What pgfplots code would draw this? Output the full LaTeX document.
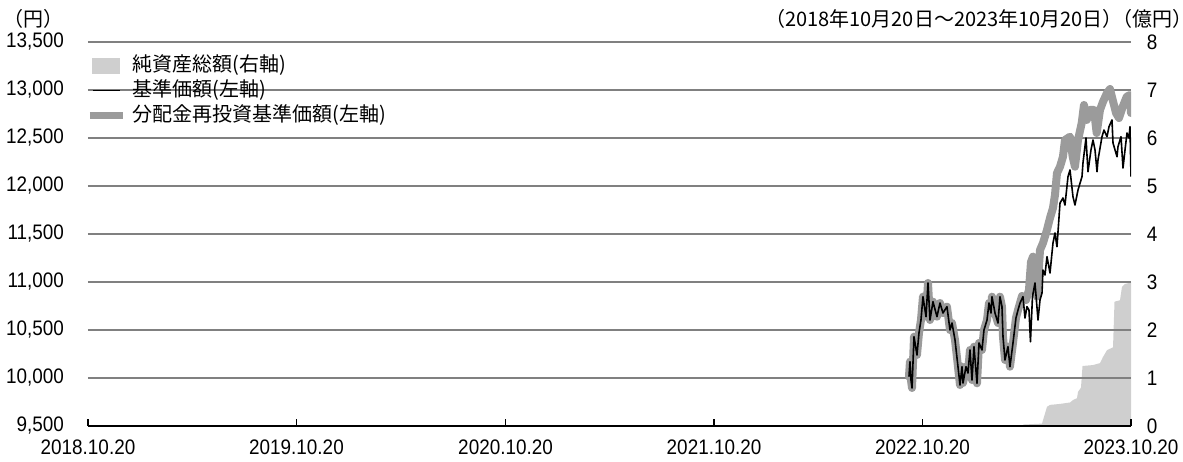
\documentclass[border=0pt]{standalone}
\usepackage{pgfplots}
\pgfplotsset{compat=1.18}
\usepackage{fontspec}
\setmainfont{Liberation Sans}[FakeStretch=0.9]
\newfontfamily\cjk{Noto Sans CJK JP}
\definecolor{navgray}{RGB}{207,207,207}
\definecolor{reinvgray}{RGB}{155,155,155}
\definecolor{gridgray}{RGB}{128,128,128}

\begin{document}
\begin{tikzpicture}
\useasboundingbox (-44pt,-17.5pt) rectangle (547.5pt,213pt);
\pgfplotsset{
  base/.style={
    scale only axis, width=521.5pt, height=192pt,
    at={(0pt,0pt)}, anchor=south west,
    xmin=0, xmax=1826,
    tick label style={font=\fontsize{10.5}{12}\selectfont},
    /pgf/number format/assume math mode=true,
    scaled y ticks=false,
  }
}
% right axis: net assets (100 million yen)
\begin{axis}[base, ymin=0, ymax=8, ytick={0,...,8},
  axis x line=none, axis y line*=right, yticklabel pos=right,
  y axis line style={draw=none}, ytick style={draw=none},
  yticklabel shift=4.35pt]
\addplot[fill=navgray, draw=none] coordinates {
(1636.9,0) (1637,0.03) (1670.2,0.05) (1671.9,0.12) (1678.9,0.40) (1684.2,0.44)
(1701.7,0.46) (1719.2,0.49) (1724.4,0.54) (1731.4,0.58) (1733.2,0.71) (1738.4,0.80)
(1741.1,1.25) (1759.5,1.27) (1771.7,1.31) (1777.0,1.44) (1784.0,1.58) (1794.5,1.64)
(1797.1,2.59) (1806.7,2.62) (1810.2,2.90) (1815.5,2.96) (1826,2.99)
} \closedcycle;
\end{axis}
% left axis: NAV per unit (yen)
\begin{axis}[base, ymin=9500, ymax=13500, ytick={9500,10000,...,13500},
  axis x line*=bottom, axis y line*=left,
  y axis line style={draw=none}, ytick style={draw=none},
  x axis line style={-, line width=0.75pt, black},
  xtick={0,365,731,1096,1461,1826},
  xticklabels={2018.10.20,2019.10.20,2020.10.20,2021.10.20,2022.10.20,2023.10.20},
  xtick align=inside, major tick length=3.5pt, xtick style={black, line width=0.6pt},
  ymajorgrids, grid style={gridgray, line width=0.8pt},
  /pgf/number format/1000 sep={,},
  yticklabel style={xshift=-8.5pt}, xticklabel style={yshift=-3.2pt},
  legend style={draw=none, fill=none, at={(rel axis cs:0,1)}, anchor=north west,
    xshift=-1pt, yshift=-5.75pt, inner sep=0pt, row sep=1pt,
    font=\cjk\fontsize{10}{12}\selectfont,
    nodes={inner sep=1pt, text height=8pt, text depth=1.5pt}},
  legend cell align=left]
\addlegendimage{legend image code/.code={\fill[navgray] (0pt,-3.75pt) rectangle (13.5pt,3.75pt); \path[draw=none, fill=none] (-1.5pt,0pt) -- (19pt,0pt);}}
\addlegendentry{純資産総額(右軸)}
\addlegendimage{legend image code/.code={\draw[black, line width=0.7pt] (0pt,0pt) -- (13.5pt,0pt); \path[draw=none, fill=none] (-1.5pt,0pt) -- (19pt,0pt);}}
\addlegendentry{基準価額(左軸)}
\addlegendimage{legend image code/.code={\draw[reinvgray, line width=3.5pt] (-1.5pt,0pt) -- (15pt,0pt); \path[draw=none, fill=none] (-1.5pt,0pt) -- (19pt,0pt);}}
\addlegendentry{分配金再投資基準価額(左軸)}
% reinvested NAV
\addplot[forget plot, reinvgray, line width=4pt, line join=round, line cap=round] coordinates {
(1437.3,10014) (1439.0,10170) (1440.8,9979) (1442.6,9896) (1446.1,10430) (1451.3,10240)
(1454.8,10469) (1458.3,10604) (1461.8,10847) (1467.1,10639) (1470.6,10990) (1474.1,10604)
(1479.3,10795) (1486.3,10639) (1491.6,10781) (1496.8,10677) (1503.8,10743) (1509.1,10500)
(1512.6,10573) (1517.9,10396) (1523.1,10118) (1526.6,9927) (1530.1,10118) (1531.9,9948)
(1537.1,10118) (1540.6,10052) (1544.1,10292) (1547.6,9979) (1551.1,10326) (1556.4,9945)
(1559.9,10365) (1565.1,10292) (1568.6,10500) (1573.9,10604) (1577.4,10781) (1580.9,10677)
(1582.6,10847) (1587.9,10677) (1593.1,10573) (1596.6,10847) (1600.1,10743) (1601.9,10430)
(1605.4,10188) (1610.6,10326) (1614.1,10118) (1619.4,10365) (1624.6,10625) (1628.2,10708)
(1635.2,10854) (1642.2,10813) (1647.4,10917) (1650.9,11208) (1654.4,11264) (1657.9,11125)
(1661.4,10847) (1666.7,11333) (1671.9,11406) (1678.9,11542) (1684.2,11667) (1689.4,11771)
(1692.9,11906) (1696.4,12135) (1701.7,12201) (1706.9,12305) (1710.4,12479) (1719.2,12514)
(1723.9,12305) (1727.9,12201) (1733.2,12479) (1739.7,12656) (1743.7,12844) (1748.5,12688)
(1754.2,12792) (1761.2,12792) (1765.9,12552) (1771.7,12792) (1777.0,12878) (1784.0,12969)
(1789.2,13010) (1794.0,12896) (1799.8,12760) (1805.0,12708) (1811.5,12826) (1818.5,12930)
(1824.2,12948) (1826,12760)
};
% NAV per unit
\addplot[forget plot, black, line width=0.8pt, line join=round] coordinates {
(1437.3,10014) (1439.0,10170) (1440.8,9979) (1442.6,9896) (1446.1,10430) (1451.3,10240)
(1454.8,10469) (1458.3,10604) (1461.8,10847) (1467.1,10639) (1470.6,10990) (1474.1,10604)
(1479.3,10795) (1486.3,10639) (1491.6,10781) (1496.8,10677) (1503.8,10743) (1509.1,10500)
(1512.6,10573) (1517.9,10396) (1523.1,10118) (1526.6,9927) (1530.1,10118) (1531.9,9948)
(1537.1,10118) (1540.6,10052) (1544.1,10292) (1547.6,9979) (1551.1,10326) (1556.4,9945)
(1559.9,10365) (1565.1,10292) (1568.6,10500) (1573.9,10604) (1577.4,10781) (1580.9,10677)
(1582.6,10847) (1587.9,10677) (1593.1,10573) (1596.6,10847) (1600.1,10743) (1601.9,10430)
(1605.4,10188) (1610.6,10326) (1614.1,10118) (1619.4,10365) (1624.6,10625) (1628.2,10708)
(1631.7,10781) (1636.9,10847) (1640.4,10625) (1643.9,10743) (1647.4,10708) (1650.0,10378)
(1653.5,10847) (1657.9,10990) (1663.2,10604) (1666.7,10813) (1670.2,10885) (1671.9,11125)
(1675.4,11073) (1678.9,11264) (1684.2,11094) (1689.4,11406) (1692.9,11510) (1696.4,11368)
(1701.7,11823) (1706.9,11875) (1710.4,11802) (1715.7,12097) (1719.2,12167) (1724.4,11889)
(1727.9,11802) (1733.2,11958) (1740.2,12097) (1741.9,12240) (1747.2,12500) (1750.7,12149)
(1755.9,12375) (1759.5,12479) (1763.0,12375) (1766.5,12149) (1768.2,12271) (1775.2,12514)
(1778.7,12583) (1784.0,12514) (1787.5,12618) (1792.7,12688) (1794.5,12448) (1801.5,12305)
(1803.2,12409) (1808.5,12514) (1812.0,12188) (1815.5,12375) (1819.0,12552) (1822.5,12500)
(1824.2,12618) (1826,12097)
};
\end{axis}
\node[font=\cjk\fontsize{10}{12}\selectfont] at (-27pt,203.5pt) {（円）};
\node[font=\cjk\fontsize{10}{12}\selectfont] at (428pt,203.5pt) {（2018年10月20日～2023年10月20日）};
\node[font=\cjk\fontsize{10}{12}\selectfont] at (532pt,203.5pt) {（億円）};
\end{tikzpicture}
\end{document}
